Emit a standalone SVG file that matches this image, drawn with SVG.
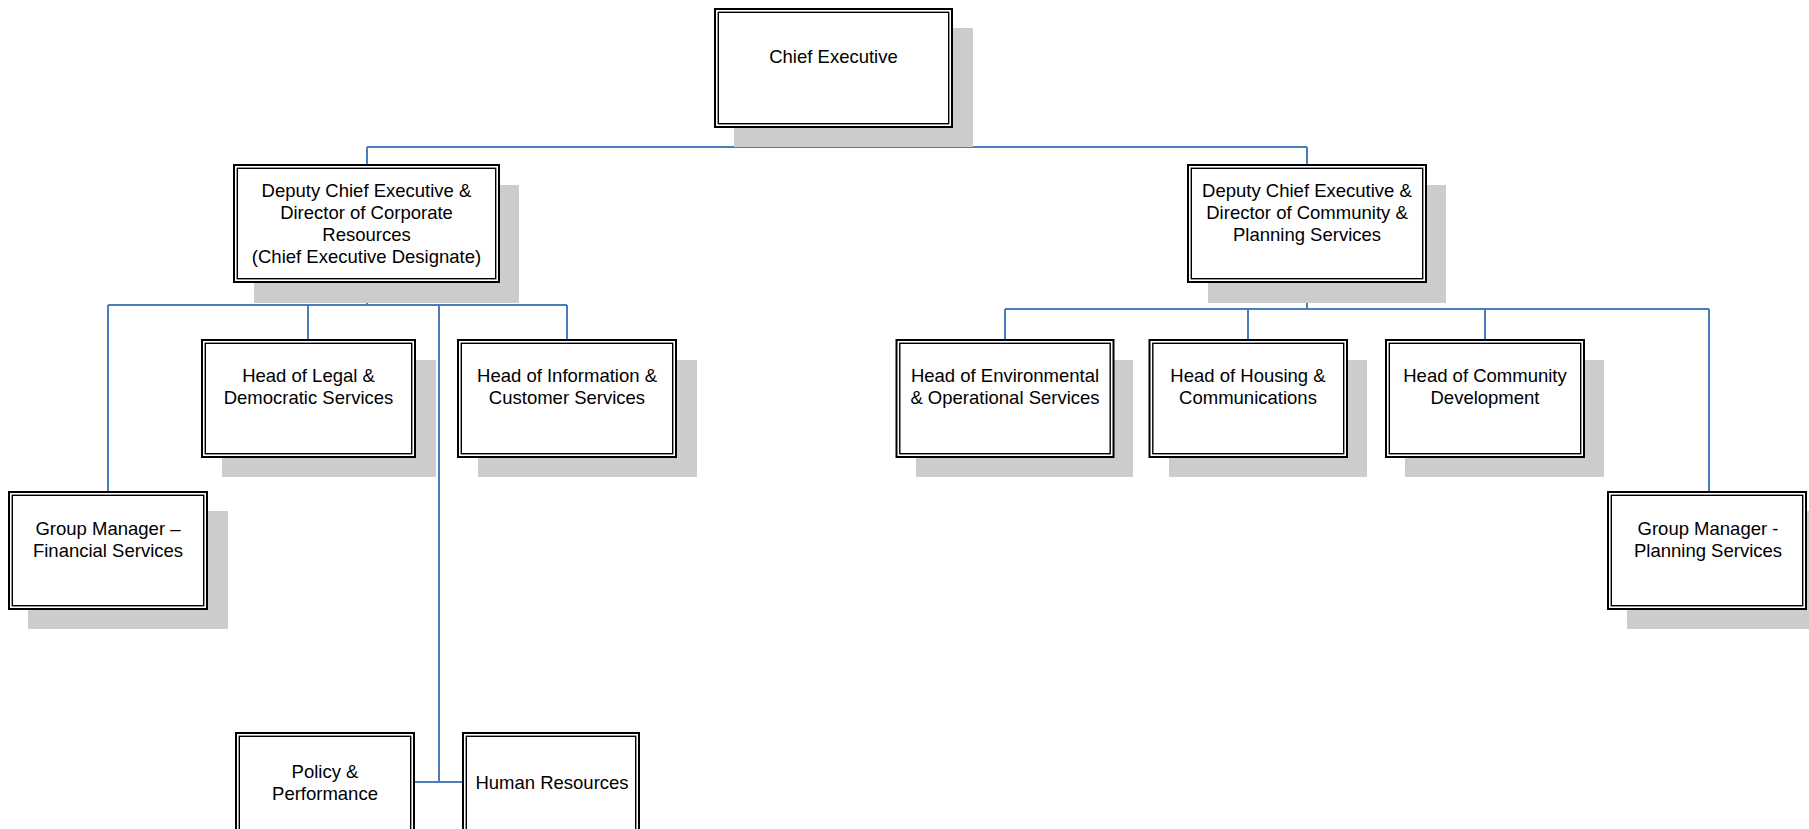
<svg xmlns="http://www.w3.org/2000/svg" width="1809" height="829" viewBox="0 0 1809 829">
<style>
.bg{fill:#ffffff}
.sh{fill:#cccccc}
.o{fill:#ffffff;stroke:#000000;stroke-width:2}
.i{fill:none;stroke:#000000;stroke-width:1.4}
.t{font-family:"Liberation Sans",Arial,sans-serif;font-size:18.5px;fill:#000000;text-anchor:middle}
.c{fill:none;stroke:#4a7ebb;stroke-width:2}
</style>
<rect class="bg" x="0" y="0" width="1809" height="829"/>

<g id="connectors">
<path class="c" d="M834 127V147M367 147H1307M367 147V165M1307 147V165"/>
<path class="c" d="M367 282V305M108 305H567M108 305V492M308 305V340M567 305V340M439 305V782M414 782H463"/>
<path class="c" d="M1307 282V309M1005 309H1709M1005 309V340M1248 309V340M1485 309V340M1709 309V492"/>
</g>

<g id="chief-executive">
<rect class="sh" x="734" y="28" width="239" height="119"/>
<rect class="o" x="715" y="9" width="237" height="118"/>
<rect class="i" x="718.3" y="12.3" width="230.4" height="111.4"/>
<text class="t" x="833.5" y="62.5">Chief Executive</text>
</g>

<g id="deputy-corporate">
<rect class="sh" x="254" y="185" width="265" height="118"/>
<rect class="o" x="234" y="165" width="265" height="117"/>
<rect class="i" x="237.3" y="168.3" width="258.4" height="110.4"/>
<text class="t" x="366.5" y="196.5"><tspan x="366.5">Deputy Chief Executive &amp;</tspan><tspan x="366.5" dy="22">Director of Corporate</tspan><tspan x="366.5" dy="22">Resources</tspan><tspan x="366.5" dy="22">(Chief Executive Designate)</tspan></text>
</g>

<g id="deputy-community">
<rect class="sh" x="1208" y="185" width="238" height="118"/>
<rect class="o" x="1188" y="165" width="238" height="117"/>
<rect class="i" x="1191.3" y="168.3" width="231.4" height="110.4"/>
<text class="t" x="1307" y="196.5"><tspan x="1307">Deputy Chief Executive &amp;</tspan><tspan x="1307" dy="22">Director of Community &amp;</tspan><tspan x="1307" dy="22">Planning Services</tspan></text>
</g>

<g id="head-legal">
<rect class="sh" x="222" y="360" width="214" height="117"/>
<rect class="o" x="202" y="340" width="213" height="117"/>
<rect class="i" x="205.3" y="343.3" width="206.4" height="110.4"/>
<text class="t" x="308.5" y="382"><tspan x="308.5">Head of Legal &amp;</tspan><tspan x="308.5" dy="22">Democratic Services</tspan></text>
</g>

<g id="head-information">
<rect class="sh" x="478" y="360" width="219" height="117"/>
<rect class="o" x="458" y="340" width="218" height="117"/>
<rect class="i" x="461.3" y="343.3" width="211.4" height="110.4"/>
<text class="t" x="567" y="382"><tspan x="567">Head of Information &amp;</tspan><tspan x="567" dy="22">Customer Services</tspan></text>
</g>

<g id="group-manager-financial">
<rect class="sh" x="28" y="511" width="200" height="118"/>
<rect class="o" x="9" y="492" width="198" height="117"/>
<rect class="i" x="12.3" y="495.3" width="191.4" height="110.4"/>
<text class="t" x="108" y="534.5"><tspan x="108">Group Manager –</tspan><tspan x="108" dy="22">Financial Services</tspan></text>
</g>

<g id="policy-performance">
<rect class="o" x="236" y="733" width="178" height="117"/>
<rect class="i" x="239.3" y="736.3" width="171.4" height="110.4"/>
<text class="t" x="325" y="777.5"><tspan x="325">Policy &amp;</tspan><tspan x="325" dy="22">Performance</tspan></text>
</g>

<g id="human-resources">
<rect class="o" x="463" y="733" width="176" height="117"/>
<rect class="i" x="466.3" y="736.3" width="169.4" height="110.4"/>
<text class="t" x="552" y="788.5">Human Resources</text>
</g>

<g id="head-environmental">
<rect class="sh" x="916" y="360" width="217" height="117"/>
<rect class="o" x="896.5" y="340" width="217" height="117"/>
<rect class="i" x="899.8" y="343.3" width="210.4" height="110.4"/>
<text class="t" x="1005" y="382"><tspan x="1005">Head of Environmental</tspan><tspan x="1005" dy="22">&amp; Operational Services</tspan></text>
</g>

<g id="head-housing">
<rect class="sh" x="1169" y="360" width="198" height="117"/>
<rect class="o" x="1149.5" y="340" width="197.5" height="117"/>
<rect class="i" x="1152.8" y="343.3" width="190.9" height="110.4"/>
<text class="t" x="1248" y="382"><tspan x="1248">Head of Housing &amp;</tspan><tspan x="1248" dy="22">Communications</tspan></text>
</g>

<g id="head-community">
<rect class="sh" x="1405" y="360" width="199" height="117"/>
<rect class="o" x="1386" y="340" width="198" height="117"/>
<rect class="i" x="1389.3" y="343.3" width="191.4" height="110.4"/>
<text class="t" x="1485" y="382"><tspan x="1485">Head of Community</tspan><tspan x="1485" dy="22">Development</tspan></text>
</g>

<g id="group-manager-planning">
<rect class="sh" x="1627" y="511" width="200" height="118"/>
<rect class="o" x="1608" y="492" width="198" height="117"/>
<rect class="i" x="1611.3" y="495.3" width="191.4" height="110.4"/>
<text class="t" x="1708" y="534.5"><tspan x="1708">Group Manager -</tspan><tspan x="1708" dy="22">Planning Services</tspan></text>
</g>
</svg>
